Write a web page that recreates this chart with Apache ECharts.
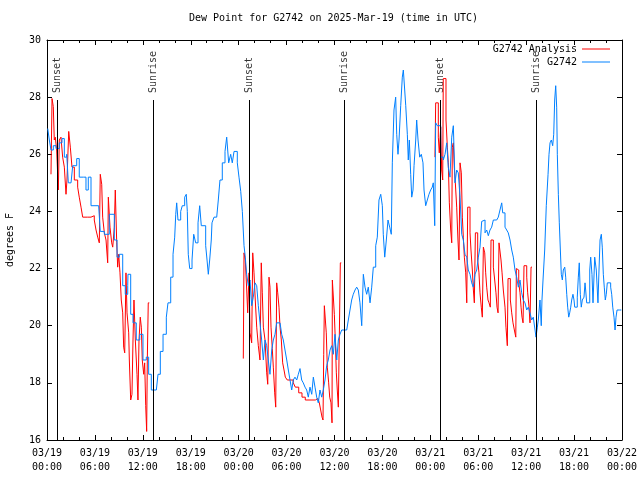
<!DOCTYPE html>
<html><head><meta charset="utf-8">
<script src="https://cdn.jsdelivr.net/npm/echarts@6/dist/echarts.min.js"></script>
<style>html,body{margin:0;padding:0;background:#fff}#c{width:640px;height:480px}</style>
</head><body><div id="c"></div>
<script>
// hours since 2025-03-19 00:00 UTC
const titleText = 'Dew Point for G2742 on 2025-Mar-19 (time in UTC)';
const yTitle = 'degrees F';
const seriesNames = ['G2742 Analysis', 'G2742'];
const eventHours = [1.34, 13.27, 25.29, 37.23, 49.30, 61.27];
const eventNames = ['Sunset', 'Sunrise', 'Sunset', 'Sunrise', 'Sunset', 'Sunrise'];

// null value = gap between analysis runs
const redHours = [
0.50,0.63,0.79,0.91,1.04,1.21,1.42,1.54,1.75,1.96,2.17,2.38,2.50,2.72,2.92,3.13,3.42,3.84,4.04,4.26,4.47,5.10,5.51,5.92,6.14,6.35,6.55,6.67,6.85,6.97,7.18,7.39,7.60,7.68,7.89,8.10,8.23,8.43,8.55,8.73,8.85,8.98,9.14,9.30,9.48,9.60,9.73,9.89,10.02,10.23,10.31,10.48,10.64,10.77,10.89,11.06,11.27,11.39,11.52,11.68,11.81,11.93,12.11,12.23,12.36,12.48,12.56,12.68,12.81,
18,
24.58,24.67,24.83,25.01,25.13,25.30,25.42,25.63,25.76,25.92,26.08,26.26,26.46,26.67,26.83,26.96,27.09,27.30,27.51,27.64,27.80,27.92,28.05,28.21,28.34,28.51,28.64,28.76,28.89,29.05,29.18,29.34,29.51,29.68,29.84,30.09,30.43,30.84,31.09,31.52,31.93,32.34,33.18,33.60,33.93,34.10,34.27,34.44,34.56,34.65,34.73,34.85,34.97,35.10,35.27,35.40,35.56,35.69,35.73,35.85,35.98,36.10,36.23,36.35,36.48,36.73,36.85,
42,
48.58,48.67,48.87,49.00,49.12,49.30,49.42,49.55,49.62,49.84,49.96,50.13,50.25,50.38,50.55,50.68,50.75,50.88,51.00,51.13,51.30,51.46,51.59,51.72,51.88,52.01,52.13,52.26,52.43,52.56,52.68,52.85,52.97,53.09,53.26,53.39,53.51,53.64,53.81,53.93,54.09,54.22,54.38,54.51,54.64,54.81,54.93,55.06,55.22,55.35,55.51,55.60,55.76,55.89,56.06,56.22,56.35,56.48,56.60,56.73,56.85,56.98,57.14,57.35,57.47,57.64,57.73,57.89,58.02,58.19,58.35,58.52,58.70,58.77,58.94,59.07,59.23,59.36,59.48,59.61,59.73,59.89,60.07,60.19,60.36,60.48,60.61,60.73
];
const redValues = [
25.3,27.95,27.67,26.5,26.6,26.15,24.75,26.5,26.6,25.9,25.55,24.6,25.1,26.8,26.25,25.55,25.1,24.85,24.5,24.15,23.8,23.8,23.85,23.7,23.35,23.1,22.9,25.3,24.95,23.8,23.25,23.0,22.2,24.5,23.45,22.9,22.75,23.45,24.75,22.9,22.05,22.5,21.85,20.9,20.45,19.25,19.05,21.85,20.45,19.75,18.8,17.4,17.6,19.5,20.9,19.5,18.3,17.4,19.5,20.3,19.95,18.8,18.3,18.7,17.2,16.3,18.8,20.8,20.8,
null,
18.85,22.55,22.3,21.25,20.45,21.85,19.75,19.4,22.55,21.85,20.9,19.95,19.3,18.8,22.2,21.15,19.95,19.5,18.35,17.95,21.7,21.35,19.95,19.2,18.55,17.65,17.15,21.5,21.15,20.65,19.95,19.5,18.7,18.45,18.2,18.1,18.1,18.0,17.85,17.65,17.5,17.4,17.4,17.45,17.5,17.3,17.05,16.8,16.7,19.0,20.7,20.65,19.75,18.55,18.0,17.5,17.3,16.6,21.6,21.6,20.4,19.5,18.35,17.75,17.15,22.2,22.2,
null,
25.9,27.8,27.8,26.6,26.05,26.95,25.45,25.1,28.65,28.65,27.2,26.25,25.7,24.3,23.35,22.9,26.25,26.4,25.55,25.0,24.15,23.0,22.3,25.7,25.35,23.8,23.1,22.4,21.85,20.8,24.15,24.15,23.25,22.65,21.95,21.25,20.8,23.25,23.25,22.3,21.85,21.15,20.65,20.3,22.75,22.55,21.85,21.35,20.9,20.8,20.65,23.0,23.0,22.05,21.6,21.15,20.65,20.45,22.9,22.9,22.3,21.85,21.25,20.65,19.95,19.3,21.65,21.65,20.9,20.45,20.1,19.85,19.6,22.0,21.95,21.5,21.15,20.65,20.3,20.1,22.1,22.1,21.7,21.15,20.65,20.1,22.05,22.05
];

const blueHours = [
0.09,0.29,0.50,0.79,1.13,1.54,1.88,2.17,2.47,2.67,3.01,3.22,3.72,4.04,4.55,4.88,5.17,5.51,6.47,6.67,7.18,7.80,8.43,8.77,9.05,9.48,9.80,10.11,10.14,10.48,10.77,11.18,11.61,12.02,12.43,12.73,13.06,13.69,13.90,14.19,14.53,14.94,15.15,15.49,15.78,15.99,16.12,16.24,16.40,16.74,16.94,17.24,17.44,17.57,17.69,17.87,18.16,18.37,18.62,18.91,19.12,19.32,19.87,20.04,20.20,20.37,20.57,20.66,20.91,21.25,21.45,21.66,21.95,22.29,22.50,22.75,23.00,23.20,23.42,23.67,23.83,24.04,24.26,24.46,24.67,24.83,
25.00,25.21,25.42,25.63,25.83,26.05,26.26,26.46,26.67,26.88,27.09,27.30,27.51,27.71,27.92,28.14,28.34,28.55,28.76,29.18,29.39,29.59,29.80,30.02,30.22,30.43,30.64,30.84,31.05,31.27,31.47,31.68,31.89,32.09,32.31,32.52,32.72,32.93,33.15,33.35,33.56,33.77,33.97,34.18,34.40,34.60,34.81,35.02,35.22,35.44,35.65,35.85,36.06,36.28,36.48,36.69,36.90,37.53,37.73,37.94,38.15,38.35,38.57,38.78,38.98,39.19,39.41,39.61,39.82,40.03,40.23,40.45,40.66,40.86,
41.16,41.36,41.57,41.79,41.99,42.11,42.29,42.49,42.70,42.91,43.11,43.24,43.45,43.66,43.79,43.95,44.08,44.29,44.49,44.62,44.79,44.92,45.12,45.24,45.37,45.54,45.67,45.83,45.96,46.17,46.29,46.46,46.67,46.87,47.08,47.21,47.42,47.62,47.83,48.04,48.24,48.37,48.55,48.67,48.87,49.09,49.30,
49.42,49.62,49.84,50.05,50.25,50.46,50.68,50.88,51.09,51.30,51.50,51.72,51.93,52.13,52.34,52.56,52.75,52.97,53.18,53.38,53.59,53.81,54.01,54.22,54.43,54.63,54.85,55.06,55.26,55.47,55.68,55.89,56.31,56.51,56.72,56.94,57.06,57.35,57.56,57.76,57.98,58.19,58.39,58.60,58.81,59.02,59.23,59.44,59.64,59.85,60.07,60.27,60.48,60.69,60.89,61.11,61.23,61.40,61.52,61.73,61.89,61.98,62.11,62.32,62.52,62.74,62.86,62.99,63.15,63.32,63.45,63.57,63.70,63.82,63.90,64.03,64.15,64.28,64.40,64.53,64.65,64.83,64.95,65.08,65.20,65.33,65.45,65.58,65.70,65.86,65.99,66.08,66.20,66.40,66.53,66.65,66.78,66.90,67.03,67.24,67.37,67.45,67.58,67.74,67.96,68.08,68.24,68.37,68.58,68.78,68.99,69.12,69.25,69.41,69.53,69.66,69.78,69.91,70.03,70.16,70.37,70.58,70.71,70.84,71.00,71.13,71.25,71.38,71.71,71.91
];
const blueValues = [
26.9,26.5,26.15,26.3,26.2,26.4,26.55,25.9,26.0,25.0,25.0,25.6,25.85,25.2,25.2,24.75,25.2,24.2,24.2,23.3,23.2,23.9,23.0,22.4,22.5,21.4,21.1,21.4,21.8,20.4,20.1,19.5,19.7,18.8,18.9,18.3,17.75,17.75,18.3,19.1,19.7,20.3,20.8,21.7,22.5,23.1,23.9,24.3,23.7,24.0,24.2,24.5,24.6,24.0,22.5,22.0,22.3,23.2,22.9,23.6,24.2,23.5,22.8,22.3,21.8,22.3,23.0,23.6,23.8,23.8,24.4,25.1,25.7,26.1,26.6,25.7,26.0,25.7,26.1,26.1,25.7,25.2,24.7,24.0,22.8,22.4,
21.8,21.4,21.6,20.7,21.0,21.5,21.4,20.7,20.1,19.5,18.8,19.5,19.3,18.8,18.3,19.15,19.5,19.7,20.1,20.1,19.7,19.5,19.15,18.8,18.45,18.1,17.75,18.1,18.2,18.1,18.3,18.5,18.1,18.0,17.85,17.75,17.5,17.85,17.6,18.2,17.85,17.5,17.3,17.75,17.5,17.75,18.1,18.6,18.8,19.15,19.3,19.0,19.7,18.8,19.5,19.7,19.85,19.85,20.2,20.55,20.9,21.1,21.25,21.35,21.25,20.8,20.0,21.8,21.35,21.1,21.35,20.8,21.35,22.05,
22.8,23.1,24.4,24.6,24.2,23.2,22.4,23.0,23.7,23.45,23.2,25.7,27.55,28.0,26.7,26.0,26.5,27.7,28.7,28.95,28.25,27.7,26.7,25.8,26.5,25.3,24.5,24.75,25.6,26.5,27.2,26.5,25.9,26.0,25.7,24.75,24.2,24.4,24.6,24.75,24.85,25.0,23.5,27.1,27.0,27.0,25.9,
25.9,25.8,26.0,26.4,25.55,25.2,26.6,27.0,25.0,25.45,25.35,24.5,23.2,23.0,22.5,22.4,21.95,21.8,21.5,21.35,21.8,21.95,22.4,22.75,23.65,23.7,23.25,23.35,23.15,23.35,23.45,23.7,23.7,23.8,24.05,24.3,23.95,23.45,23.35,23.25,23.0,22.65,22.4,21.95,21.7,21.35,21.6,21.15,20.9,20.8,20.55,20.65,20.45,20.2,20.3,19.85,19.6,19.95,20.2,20.9,20.0,20.9,21.6,22.65,24.2,25.3,26.0,26.4,26.5,26.3,26.7,27.9,28.4,27.65,26.0,24.6,23.6,22.65,21.8,21.6,21.95,22.05,21.7,21.1,20.65,20.3,20.45,20.65,20.9,21.1,20.9,20.65,20.65,21.0,21.7,22.2,21.1,20.65,20.9,21.0,21.5,21.25,20.8,20.8,21.95,22.4,21.8,20.8,22.4,21.95,20.8,21.95,23.0,23.2,22.75,21.8,21.35,20.9,21.1,21.5,21.5,21.35,21.1,20.65,20.3,19.85,20.3,20.55,20.55,20.55
];

const FONT = 'DejaVu Sans Mono';
const txt = {fontFamily: FONT, fontSize: 10, color: '#000'};
const pad2 = n => (n < 10 ? '0' : '') + n;
function hourLabel(h) {
  const day = 19 + Math.floor(h / 24 + 1e-9);
  const hh = Math.round(h - (day - 19) * 24);
  return '03/' + day + '\n' + pad2(hh) + ':00';
}

// split analysis into runs at null values
const redRuns = [];
let cur = [];
redHours.forEach((h, i) => {
  if (redValues[i] === null) { if (cur.length) redRuns.push(cur); cur = []; }
  else cur.push([h, redValues[i]]);
});
if (cur.length) redRuns.push(cur);

const blueData = blueHours.map((h, i) => [h, blueValues[i]]);
const eventLines = eventHours.map(h => [{coord: [h, 16]}, {coord: [h, 27.9]}]);
const eventLabels = eventHours.map((h, i) => ({value: [h, 28.18], name: eventNames[i]}));

const tickCommon = {inside: true, length: 5, lineStyle: {color: '#000', width: 1}};
const minorCommon = {show: true, splitNumber: 3, length: 3, lineStyle: {color: '#000', width: 1}};
const lineCommon = {show: true, onZero: false, lineStyle: {color: '#000', width: 1}};

const series = redRuns.map((run, k) => ({
  name: seriesNames[0], type: 'line', step: 'end', symbol: 'none', data: run,
  lineStyle: {color: '#ff0000', width: 1}, itemStyle: {color: '#ff0000'},
  markLine: k === 0 ? {silent: true, symbol: ['none', 'none'], label: {show: false},
    lineStyle: {color: '#000', width: 1, type: 'solid'}, data: eventLines} : undefined
}));
series.push({name: seriesNames[1], type: 'line', step: 'end', symbol: 'none', data: blueData,
  lineStyle: {color: '#0080ff', width: 1}, itemStyle: {color: '#0080ff'}});
series.push({type: 'scatter', silent: true, symbolSize: 0, data: eventLabels,
  label: Object.assign({show: true, position: [0, 0], offset: [-1, 0], rotate: 90, align: 'left',
    verticalAlign: 'middle', formatter: p => p.data.name}, txt)});

const legendCommon = {right: 30, padding: 0, align: 'right', icon: 'rect', itemWidth: 28, itemHeight: 1,
  textStyle: txt, selectedMode: false};

const chart = echarts.init(document.getElementById('c'), null, {renderer: 'canvas'});
chart.setOption({
  animation: false,
  backgroundColor: '#fff',
  title: {text: titleText, left: 189, top: 13, padding: 0,
    textStyle: {fontFamily: FONT, fontSize: 10, fontWeight: 'normal', color: '#000'}},
  legend: [
    Object.assign({data: [seriesNames[0]], top: 44}, legendCommon),
    Object.assign({data: [seriesNames[1]], top: 57}, legendCommon)
  ],
  grid: {left: 47, right: 18, top: 40, bottom: 40, containLabel: false, outerBoundsMode: 'none'},
  xAxis: [
    {type: 'value', min: 0, max: 72, interval: 6, position: 'bottom',
     axisLine: lineCommon, axisTick: tickCommon, minorTick: minorCommon, splitLine: {show: false},
     axisLabel: Object.assign({formatter: hourLabel, lineHeight: 14, margin: 6}, txt)},
    {type: 'value', min: 0, max: 72, interval: 6, position: 'top',
     axisLine: lineCommon, axisTick: tickCommon, minorTick: minorCommon, splitLine: {show: false},
     axisLabel: {show: false}}
  ],
  yAxis: [
    {type: 'value', min: 16, max: 30, interval: 2, position: 'left',
     name: yTitle, nameLocation: 'middle', nameGap: 32, nameRotate: 90, nameTextStyle: txt,
     axisLine: lineCommon, axisTick: tickCommon, splitLine: {show: false},
     axisLabel: Object.assign({margin: 6}, txt)},
    {type: 'value', min: 16, max: 30, interval: 2, position: 'right',
     axisLine: lineCommon, axisTick: tickCommon, splitLine: {show: false},
     axisLabel: {show: false}}
  ],
  series: series
});
</script>
</body></html>
